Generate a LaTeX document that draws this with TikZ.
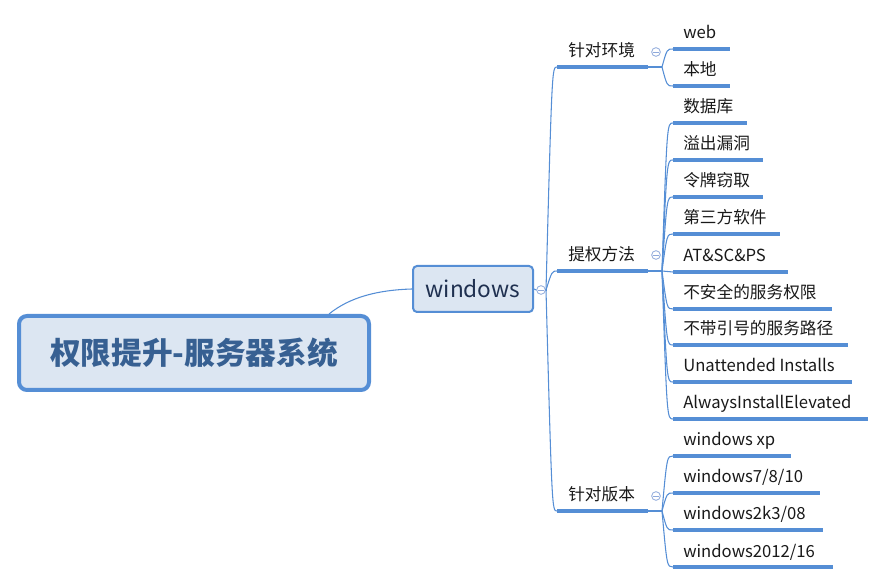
\documentclass[tikz,border=0pt]{standalone}
\usepackage{fontspec}
\setmainfont{Noto Sans CJK SC}
\definecolor{lineblue}{HTML}{558ED5}
\definecolor{boxfill}{HTML}{DCE6F2}
\definecolor{roottext}{HTML}{376092}
\definecolor{wintext}{HTML}{1F3050}
\definecolor{circcol}{HTML}{8EA9DB}
\newcommand{\mkleaf}[5]{%
  \coordinate (#1u) at (673,#3);
  \node[leaftext, anchor=base west] (#1) at (683,#3-10) {#5};
  \draw[conn] (#2) .. controls (667,#3) .. (#1u);
  \draw[uline] (#1u) -- (#4,#3);
}
\newcommand{\mkbranch}[4]{% name, y, text, circle y
  \coordinate (#1u) at (557,#2);
  \coordinate (#1j) at (662,#2);
  \node[leaftext, anchor=base west] (#1) at (568,#2-10) {#3};
  \draw[conn] (wj) .. controls (552,#2) .. (#1u);
  \draw[uline] (#1u) -- (648,#2);
  \draw[conn] (648,#2) -- (#1j);
  \node[collapse] (#1c) at (656,#4) {};
  \draw[circcol, line width=0.5pt] ([xshift=1.6pt]#1c.west) -- ([xshift=-1.6pt]#1c.east);
}
\tikzset{
  conn/.style={draw=lineblue, line width=0.8pt},
  uline/.style={draw=lineblue, line width=2.3pt},
  leaftext/.style={inner sep=0pt, font=\fontsize{12.5pt}{14pt}\selectfont, text=black!90},
  collapse/.style={circle, draw=circcol, fill=white, line width=0.6pt, minimum size=6.5pt, inner sep=0pt},
}
\begin{document}
\begin{tikzpicture}[x=0.75pt, y=-0.75pt]
\useasboundingbox (0,0) rectangle (886,584);
% root
\node[draw=lineblue, fill=boxfill, line width=3pt, rounded corners=6pt,
      minimum width=262.5pt, minimum height=55.5pt, inner sep=0pt,
      font=\fontsize{23pt}{27pt}\selectfont\bfseries, text=roottext] (root) at (194,353) {权限提升-服务器系统};
% windows
\node[draw=lineblue, fill=boxfill, line width=1.5pt, rounded corners=3pt,
      minimum width=90pt, minimum height=34.5pt, inner sep=0pt,
      font=\fontsize{17pt}{20pt}\selectfont, text=wintext] (win) at (473,289) {windows};
\draw[conn] ([xshift=-31.5pt]root.north east) .. controls (350,297) and (378,290) .. (win.west);
% windows collapse
\node[collapse] (wc) at (541,290) {};
\draw[conn] (win.east) -- (wc.west);
\draw[circcol, line width=0.5pt] ([xshift=1.6pt]wc.west) -- ([xshift=-1.6pt]wc.east);
\coordinate (wj) at (546,290);
\draw[conn] (wc.east) -- (wj);
% branches
\mkbranch{A}{67}{针对环境}{52}
\mkbranch{B}{271}{提权方法}{255}
\mkbranch{C}{511}{针对版本}{496}
% leaves A
\mkleaf{a1}{Aj}{49}{730}{web}
\mkleaf{a2}{Aj}{86}{730}{本地}
% leaves B
\mkleaf{b1}{Bj}{123}{747}{数据库}
\mkleaf{b2}{Bj}{160}{763}{溢出漏洞}
\mkleaf{b3}{Bj}{197}{763}{令牌窃取}
\mkleaf{b4}{Bj}{234}{780}{第三方软件}
\mkleaf{b5}{Bj}{272}{788}{AT\&SC\&PS}
\mkleaf{b6}{Bj}{309}{832}{不安全的服务权限}
\mkleaf{b7}{Bj}{345}{848}{不带引号的服务路径}
\mkleaf{b8}{Bj}{382}{852}{Unattended Installs}
\mkleaf{b9}{Bj}{419}{868}{AlwaysInstallElevated}
% leaves C
\mkleaf{c1}{Cj}{456}{791}{windows xp}
\mkleaf{c2}{Cj}{493}{820}{windows7/8/10}
\mkleaf{c3}{Cj}{530}{823}{windows2k3/08}
\mkleaf{c4}{Cj}{567}{833}{windows2012/16}
\end{tikzpicture}
\end{document}
